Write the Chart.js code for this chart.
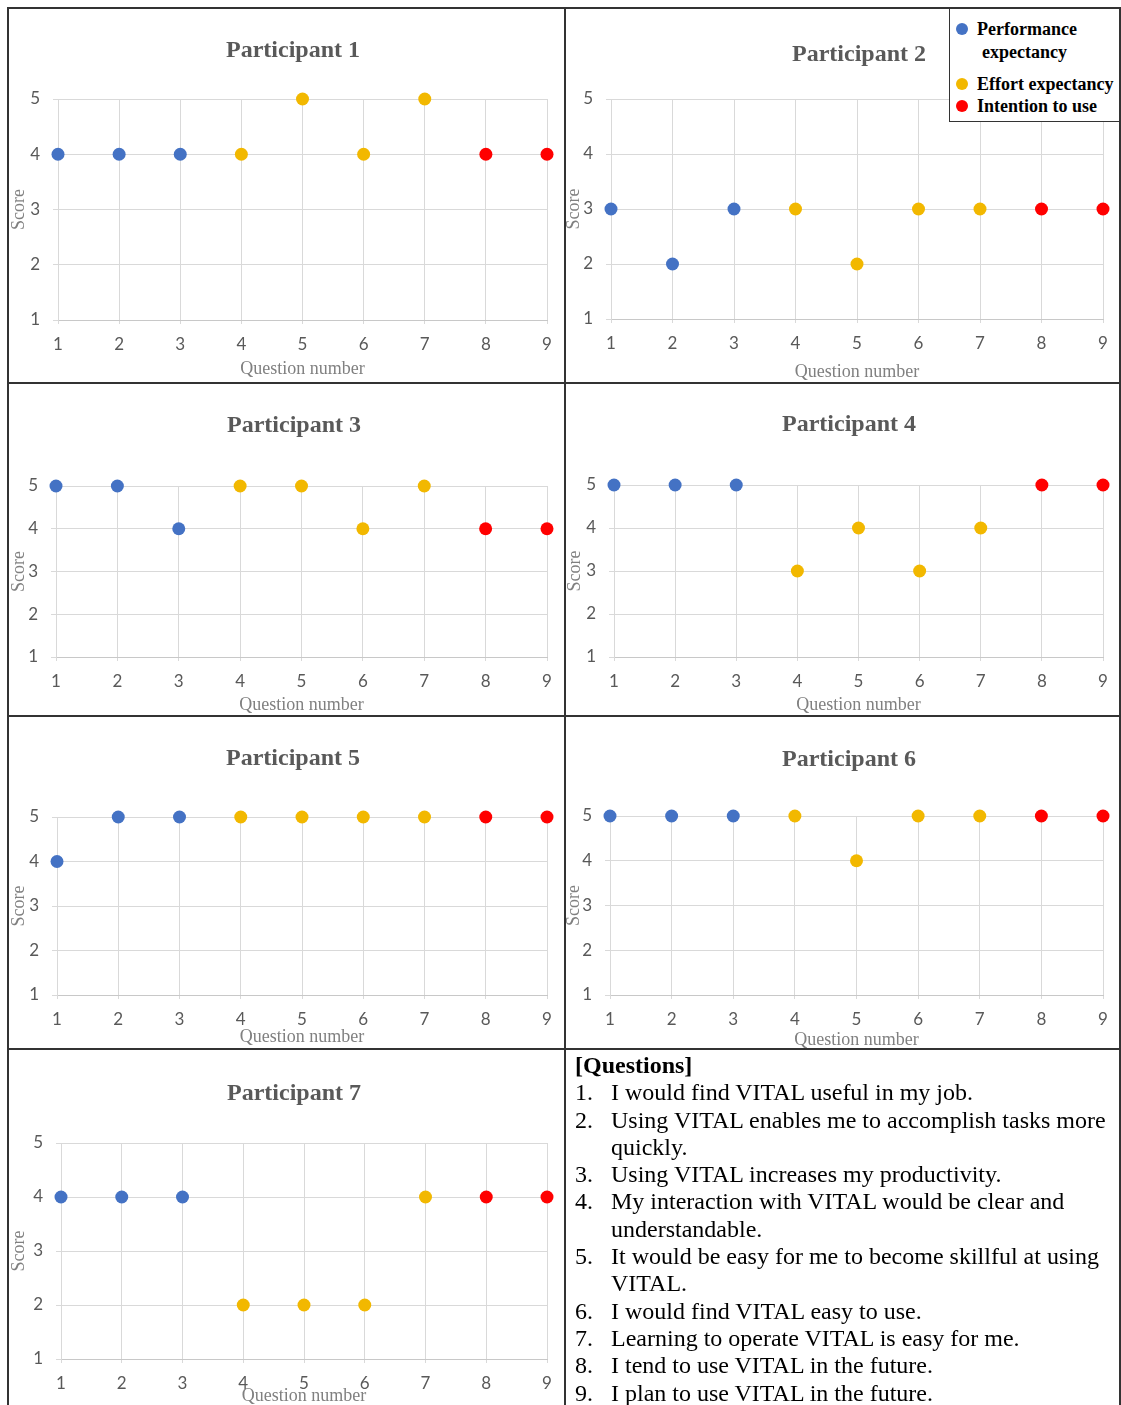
<!DOCTYPE html>
<html>
<head>
<meta charset="utf-8">
<script src="https://cdn.jsdelivr.net/npm/chart.js@4.4.1/dist/chart.umd.min.js"></script>
<style>
html, body { margin: 0; padding: 0; background: #fff; }
body { width: 1121px; height: 1405px; position: relative; overflow: hidden; }
canvas { position: absolute; }
.rule { position: absolute; background: #333; }
#legend { position: absolute; left: 949px; top: 7px; width: 170px; height: 114px; background: #fff;
  border-left: 1.5px solid #333; border-bottom: 1.5px solid #333; z-index: 2; }
.lg { position: absolute; font: bold 18px "Liberation Serif", serif; color: #000; line-height: 18px; white-space: nowrap; }
.dot { position: absolute; width: 12px; height: 12px; border-radius: 50%; }
#questions { position: absolute; left: 575px; top: 1052px; font: 24px "Liberation Serif", serif;
  color: #000; line-height: 27.3px; white-space: nowrap; z-index: 2; }
#questions .n { display: inline-block; width: 36px; }
#questions .cont { padding-left: 36px; }
</style>
</head>
<body>
<div class="rule" style="left:7px;top:7px;width:2px;height:1398px;z-index:3"></div>
<div class="rule" style="left:564px;top:7px;width:2px;height:1398px;z-index:3"></div>
<div class="rule" style="left:1119px;top:7px;width:2px;height:1398px;z-index:3"></div>
<div class="rule" style="left:7px;top:7px;width:1114px;height:2px;z-index:3"></div>
<div class="rule" style="left:7px;top:382px;width:1114px;height:2px;z-index:3"></div>
<div class="rule" style="left:7px;top:715px;width:1114px;height:2px;z-index:3"></div>
<div class="rule" style="left:7px;top:1048px;width:1114px;height:2px;z-index:3"></div>

<div id="legend">
  <div class="dot" style="left:6px;top:16px;background:#4472C4"></div>
  <div class="lg" style="left:27px;top:13px">Performance</div>
  <div class="lg" style="left:32px;top:36px">expectancy</div>
  <div class="dot" style="left:6px;top:71px;background:#F2B800"></div>
  <div class="lg" style="left:27px;top:68px">Effort expectancy</div>
  <div class="dot" style="left:6px;top:93px;background:#FF0000"></div>
  <div class="lg" style="left:27px;top:90px">Intention to use</div>
</div>

<div id="questions">
  <div><b>[Questions]</b></div>
  <div><span class="n">1.</span>I would find VITAL useful in my job.</div>
  <div><span class="n">2.</span>Using VITAL enables me to accomplish tasks more</div>
  <div class="cont">quickly.</div>
  <div><span class="n">3.</span>Using VITAL increases my productivity.</div>
  <div><span class="n">4.</span>My interaction with VITAL would be clear and</div>
  <div class="cont">understandable.</div>
  <div><span class="n">5.</span>It would be easy for me to become skillful at using</div>
  <div class="cont">VITAL.</div>
  <div><span class="n">6.</span>I would find VITAL easy to use.</div>
  <div><span class="n">7.</span>Learning to operate VITAL is easy for me.</div>
  <div><span class="n">8.</span>I tend to use VITAL in the future.</div>
  <div><span class="n">9.</span>I plan to use VITAL in the future.</div>
</div>

<script>
// question groups
const performanceQuestions = [1, 2, 3];
const effortQuestions = [4, 5, 6, 7];
const intentionQuestions = [8, 9];

const participantTitles = ['Participant 1', 'Participant 2', 'Participant 3', 'Participant 4',
  'Participant 5', 'Participant 6', 'Participant 7'];

// scores for questions 1..9
const scoresP1 = [4, 4, 4, 4, 5, 4, 5, 4, 4];
const scoresP2 = [3, 2, 3, 3, 2, 3, 3, 3, 3];
const scoresP3 = [5, 5, 4, 5, 5, 4, 5, 4, 4];
const scoresP4 = [5, 5, 5, 3, 4, 3, 4, 5, 5];
const scoresP5 = [4, 5, 5, 5, 5, 5, 5, 5, 5];
const scoresP6 = [5, 5, 5, 5, 4, 5, 5, 5, 5];
const scoresP7 = [4, 4, 4, 2, 2, 2, 4, 4, 4];
const allScores = [scoresP1, scoresP2, scoresP3, scoresP4, scoresP5, scoresP6, scoresP7];

const xMin = 1, xMax = 9;
const yMin = 1, yMax = 5;

// page geometry of each panel: cell, plot box, title / axis title centres
const panels = [
  { cL: 9,   cT: 9,    cB: 382,  pL: 58,  pR: 547,  pT: 99,   pB: 320,  tX: 293, tY: 49,   xtY: 369,  sX: 19 },
  { cL: 566, cT: 9,    cB: 382,  pL: 611, pR: 1103, pT: 99,   pB: 319,  tX: 859, tY: 53,   xtY: 372,  sX: 574 },
  { cL: 9,   cT: 384,  cB: 715,  pL: 56,  pR: 547,  pT: 486,  pB: 657,  tX: 294, tY: 424,  xtY: 705,  sX: 19 },
  { cL: 566, cT: 384,  cB: 715,  pL: 614, pR: 1103, pT: 485,  pB: 657,  tX: 849, tY: 423,  xtY: 705,  sX: 575 },
  { cL: 9,   cT: 717,  cB: 1048, pL: 57,  pR: 547,  pT: 817,  pB: 995,  tX: 293, tY: 757,  xtY: 1037, sX: 19 },
  { cL: 566, cT: 717,  cB: 1048, pL: 610, pR: 1103, pT: 816,  pB: 995,  tX: 849, tY: 758,  xtY: 1040, sX: 574 },
  { cL: 9,   cT: 1050, cB: 1405, pL: 61,  pR: 547,  pT: 1143, pB: 1359, tX: 294, tY: 1092, xtY: 1396, sX: 19 }
];

const titleSize = 24, axisTitleSize = 18, tickSize = 17;

function pick(scores, qs) {
  return qs.map(q => ({ x: q, y: scores[q - 1] }));
}

function series(label, data, color) {
  return {
    label: label, data: data, clip: false,
    backgroundColor: color, borderColor: color,
    pointRadius: 6.5, pointHoverRadius: 6.5, pointBorderWidth: 0
  };
}

panels.forEach((b, i) => {
  // canvas is symmetric around the title centre so the title plugin centres it there
  const cR = 2 * b.tX - b.cL;
  const w = cR - b.cL, h = b.cB - b.cT;
  const cv = document.createElement('canvas');
  cv.width = w; cv.height = h;
  cv.style.left = b.cL + 'px'; cv.style.top = b.cT + 'px';
  cv.style.width = w + 'px'; cv.style.height = h + 'px';
  document.body.appendChild(cv);

  const scores = allScores[i];

  new Chart(cv, {
    type: 'scatter',
    data: {
      datasets: [
        series('Performance expectancy', pick(scores, performanceQuestions), '#4472C4'),
        series('Effort expectancy', pick(scores, effortQuestions), '#F2B800'),
        series('Intention to use', pick(scores, intentionQuestions), '#FF0000')
      ]
    },
    options: {
      responsive: false,
      animation: false,
      devicePixelRatio: 1,
      layout: { padding: 0 },
      plugins: {
        legend: { display: false },
        tooltip: { enabled: false },
        title: {
          display: true,
          text: participantTitles[i],
          color: '#595959',
          font: { family: '"Liberation Serif", serif', size: titleSize, weight: 'bold', lineHeight: 1 },
          padding: { top: b.tY - b.cT - titleSize / 2 + 2, bottom: b.pT - b.tY - titleSize / 2 - 2 }
        }
      },
      scales: {
        x: {
          type: 'linear', min: xMin, max: xMax,
          ticks: { stepSize: 1, color: '#595959', padding: 10,
            font: { family: 'Lato, sans-serif', size: tickSize } },
          grid: { color: '#D9D9D9', tickLength: 4 },
          border: { color: '#C8C8C8' },
          title: {
            display: true, text: 'Question number', color: '#808080',
            font: { family: '"Liberation Serif", serif', size: axisTitleSize, lineHeight: 1 },
            padding: { top: 0, bottom: b.cB - b.xtY - axisTitleSize / 2 }
          },
          afterFit: s => { s.height = b.cB - b.pB; s.paddingLeft = 0; s.paddingRight = 0; }
        },
        y: {
          type: 'linear', min: yMin, max: yMax,
          ticks: { stepSize: 1, color: '#595959', padding: 13,
            font: { family: 'Lato, sans-serif', size: tickSize } },
          grid: { color: '#D9D9D9', tickLength: 5 },
          border: { color: '#D9D9D9' },
          title: {
            display: true, text: 'Score', color: '#808080',
            font: { family: '"Liberation Serif", serif', size: axisTitleSize, lineHeight: 1 },
            padding: { top: b.sX - b.cL - axisTitleSize / 2, bottom: 0 }
          },
          afterFit: s => { s.width = b.pL - b.cL; s.paddingTop = 0; s.paddingBottom = 0; }
        },
        // empty spacer on the right so the plot ends where the reference plot ends
        spacer: {
          type: 'linear', position: 'right', min: 0, max: 1,
          ticks: { display: false }, grid: { display: false }, border: { display: false },
          afterFit: s => { s.width = cR - b.pR; s.paddingTop = 0; s.paddingBottom = 0; }
        }
      }
    }
  });
});
</script>
</body>
</html>
